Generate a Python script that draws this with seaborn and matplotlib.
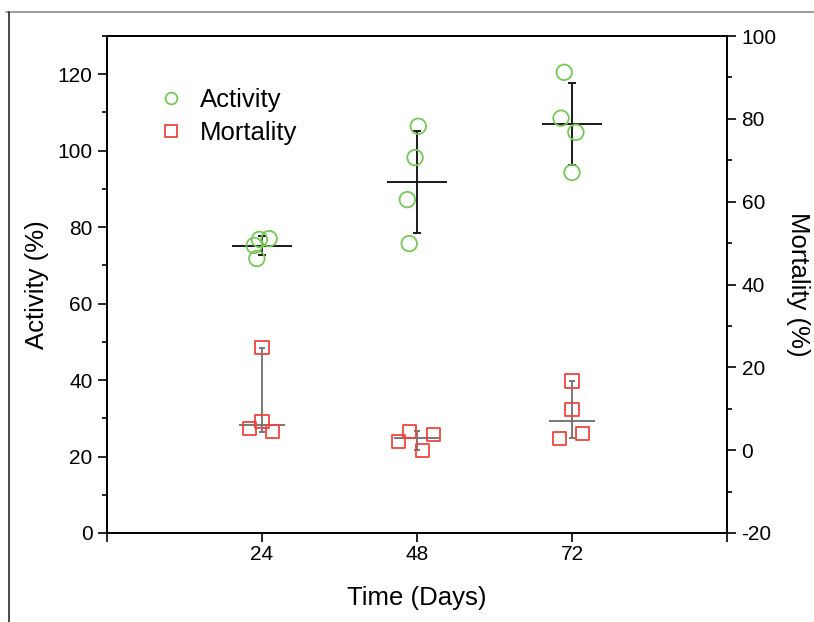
import matplotlib.pyplot as plt
import matplotlib.lines as mlines
from matplotlib.ticker import MultipleLocator
import seaborn as sns
import pandas as pd
import numpy as np

plt.switch_backend('Agg')

days = [24, 48, 72]

# Activity (%), four replicates per time point (x is jittered around the day)
activity_x = [22.8, 23.6, 25.1, 23.2, 48.2, 47.7, 46.5, 46.8, 70.8, 70.3, 72.6, 72.0]
activity_y = [75.2, 76.8, 77.0, 71.8, 106.4, 98.2, 87.2, 75.7, 120.5, 108.5, 104.8, 94.3]
activity_day = [24] * 4 + [48] * 4 + [72] * 4

# Mortality (%), right axis
mortality_x = [24.0, 24.0, 22.1, 25.7, 46.9, 50.6, 45.2, 48.8, 72.0, 72.0, 70.1, 73.7]
mortality_y = [24.7, 7.0, 5.3, 4.4, 4.6, 3.7, 2.2, 0.0, 16.7, 9.9, 2.9, 4.1]
mortality_day = activity_day

GREEN = '#78c65a'
RED = '#ee4540'

act = pd.DataFrame({'x': activity_x, 'y': activity_y, 'day': activity_day})
mort = pd.DataFrame({'x': mortality_x, 'y': mortality_y, 'day': mortality_day})

act_stats = act.groupby('day')['y'].agg(['mean', 'std']).reindex(days)
mort_stats = mort.groupby('day')['y'].agg(['median', 'min', 'max']).reindex(days)

sns.set_style('ticks')
plt.rcParams['font.family'] = ['Liberation Sans', 'DejaVu Sans']
plt.rcParams['axes.linewidth'] = 1.3
plt.rcParams['axes.unicode_minus'] = False
for key in ['text.color', 'axes.labelcolor', 'xtick.color', 'ytick.color', 'axes.edgecolor']:
    plt.rcParams[key] = 'black'

fig = plt.figure(figsize=(8.14, 6.22), dpi=100)
ax = fig.add_axes([107 / 814, 1 - 533 / 622, 620 / 814, 497 / 622])
ax2 = ax.twinx()

# activity: mean line + SD bars
ax.hlines(act_stats['mean'], np.array(days) - 4.7, np.array(days) + 4.7,
          color='#1a1a1a', lw=1.4, zorder=2)
ax.errorbar(days, act_stats['mean'], yerr=act_stats['std'], fmt='none',
            ecolor='#1a1a1a', elinewidth=1.4, capsize=2.7, capthick=1.4, zorder=2)
sns.scatterplot(data=act, x='x', y='y', ax=ax, marker='o', s=125,
                facecolor='none', edgecolor=GREEN, linewidth=1.3, zorder=3, legend=False)

# mortality: median line + range bars
ax2.hlines(mort_stats['median'], np.array(days) - 3.6, np.array(days) + 3.6,
           color='#6e6e6e', lw=1.3, zorder=2)
ax2.errorbar(days, mort_stats['median'],
             yerr=[mort_stats['median'] - mort_stats['min'], mort_stats['max'] - mort_stats['median']],
             fmt='none', ecolor='#6e6e6e', elinewidth=1.3, capsize=2.4, capthick=1.3, zorder=2)
sns.scatterplot(data=mort, x='x', y='y', ax=ax2, marker='s', s=88,
                facecolor='none', edgecolor=RED, linewidth=1.3, zorder=3, legend=False)

ax.set_xlim(0, 96)
ax.set_ylim(0, 130)
ax2.set_ylim(-20, 100)

ax.set_xticks([0, 24, 48, 72, 96])
ax.set_xticklabels(['', '24', '48', '72', ''])
ax.yaxis.set_major_locator(MultipleLocator(20))
ax.yaxis.set_minor_locator(MultipleLocator(10))
ax2.yaxis.set_major_locator(MultipleLocator(20))
ax2.yaxis.set_minor_locator(MultipleLocator(10))

for a in (ax, ax2):
    a.tick_params(which='major', length=6.5, width=1.2, labelsize=15, direction='out', pad=4)
    a.tick_params(which='minor', length=3.5, width=1.2, direction='out')
ax.tick_params(axis='x', which='major', pad=2)

ax.set_xlabel('Time (Days)', fontsize=18.5, labelpad=16)
ax.set_ylabel('Activity (%)', fontsize=18.5, labelpad=6)
ax2.set_ylabel('Mortality (%)', fontsize=18.5, rotation=270, labelpad=24)

handles = [
    mlines.Line2D([], [], ls='none', marker='o', ms=8.5, mfc='none', mec=GREEN, mew=1.3),
    mlines.Line2D([], [], ls='none', marker='s', ms=8.5, mfc='none', mec=RED, mew=1.3),
]
ax.legend(handles, ['Activity', 'Mortality'], loc='upper left',
          bbox_to_anchor=(158 / 814, 1 - 88 / 622), bbox_transform=fig.transFigure,
          frameon=False, fontsize=18.5, handlelength=1.0, handletextpad=0.63,
          borderaxespad=0, borderpad=0, labelspacing=0.36)

# screenshot frame edges
fig.add_artist(mlines.Line2D([6 / 814, 1], [1 - 12 / 622] * 2, transform=fig.transFigure,
                             color='#8c8c8c', lw=1.2))
fig.add_artist(mlines.Line2D([9 / 814] * 2, [0, 1 - 12 / 622], transform=fig.transFigure,
                             color='#2a2a2a', lw=1.2))

fig.savefig('out.png', dpi=100)
plt.close(fig)
